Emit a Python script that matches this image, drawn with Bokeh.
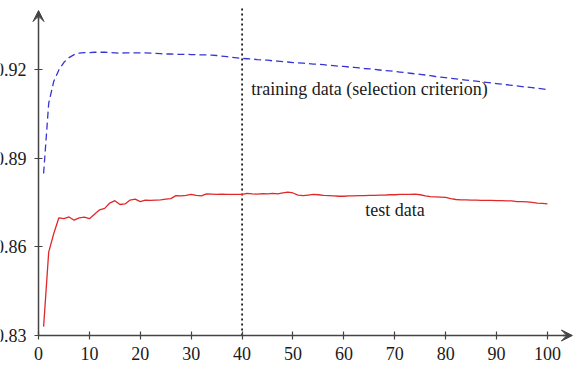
from bokeh.plotting import figure
from bokeh.models import Range1d, FixedTicker, Arrow, VeeHead
from bokeh.core.properties import value
from bokeh.embed import file_html
from bokeh.resources import INLINE

iterations = list(range(1, 101))

training = [0.8848, 0.9085, 0.9160, 0.9198, 0.9224, 0.9240, 0.9250, 0.9255, 0.9257, 0.9257,
            0.9258, 0.9258, 0.9258, 0.9257, 0.9256, 0.9255, 0.9256, 0.9256, 0.9256, 0.9256,
            0.9256, 0.9255, 0.9254, 0.9253, 0.9252, 0.9252, 0.9251, 0.9251, 0.9251, 0.9250,
            0.9250, 0.9249, 0.9249, 0.9248, 0.9247, 0.9245, 0.9243, 0.9241, 0.9239, 0.9237,
            0.9236, 0.9235, 0.9233, 0.9232, 0.9231, 0.9229, 0.9228, 0.9226, 0.9225, 0.9223,
            0.9222, 0.9221, 0.9220, 0.9218, 0.9217, 0.9216, 0.9214, 0.9213, 0.9211, 0.9210,
            0.9208, 0.9207, 0.9205, 0.9203, 0.9202, 0.9200, 0.9198, 0.9196, 0.9195, 0.9193,
            0.9191, 0.9189, 0.9187, 0.9185, 0.9183, 0.9181, 0.9179, 0.9176, 0.9174, 0.9172,
            0.9170, 0.9168, 0.9166, 0.9164, 0.9162, 0.9160, 0.9158, 0.9156, 0.9154, 0.9152,
            0.9150, 0.9148, 0.9146, 0.9144, 0.9142, 0.9140, 0.9138, 0.9136, 0.9134, 0.9132]

test = [0.8330, 0.8582, 0.8645, 0.8698, 0.8695, 0.8701, 0.8690, 0.8698, 0.8700, 0.8695,
        0.8710, 0.8725, 0.8730, 0.8748, 0.8756, 0.8743, 0.8745, 0.8758, 0.8761, 0.8753,
        0.8758, 0.8757, 0.8758, 0.8759, 0.8761, 0.8763, 0.8773, 0.8772, 0.8774, 0.8777,
        0.8774, 0.8772, 0.8779, 0.8778, 0.8777, 0.8778, 0.8777, 0.8777, 0.8777, 0.8777,
        0.8781, 0.8779, 0.8778, 0.8780, 0.8779, 0.8781, 0.8779, 0.8782, 0.8785, 0.8782,
        0.8775, 0.8773, 0.8775, 0.8777, 0.8776, 0.8774, 0.8773, 0.8772, 0.8771, 0.8771,
        0.8772, 0.8772, 0.8773, 0.8773, 0.8774, 0.8774, 0.8775, 0.8775, 0.8776, 0.8776,
        0.8777, 0.8777, 0.8777, 0.8778, 0.8776, 0.8772, 0.8770, 0.8769, 0.8768, 0.8767,
        0.8763, 0.8760, 0.8759, 0.8759, 0.8758, 0.8758, 0.8757, 0.8757, 0.8757, 0.8756,
        0.8756, 0.8755, 0.8755, 0.8753, 0.8753, 0.8752, 0.8750, 0.8748, 0.8747, 0.8745]

x_ticks = [0, 10, 20, 30, 40, 50, 60, 70, 80, 90, 100]
y_ticks = [0.83, 0.86, 0.89, 0.92]
selected_iteration = 40
labels = ["training data (selection criterion)", "test data"]
label_x = [41.8, 64.2]
label_y = [0.9132, 0.8723]

FONT = "'Liberation Serif', 'Times New Roman', Times, serif"
AX = "#444444"

p = figure(width=578, height=369, output_backend="svg", toolbar_location=None,
           x_range=Range1d(-7.47, 106.1), y_range=Range1d(0.8185, 0.9433),
           min_border=0, min_border_left=0, min_border_right=0,
           min_border_top=0, min_border_bottom=0)
p.outline_line_color = None
p.grid.visible = False
p.background_fill_color = "white"

p.axis.axis_line_color = AX
p.axis.axis_line_width = 1.5
p.axis.major_tick_line_color = AX
p.axis.major_tick_line_width = 1.2
p.axis.major_tick_in = 4
p.axis.major_tick_out = 4
p.axis.minor_tick_line_color = None
p.axis.major_label_text_font = FONT
p.axis.major_label_text_font_size = "18px"
p.axis.major_label_text_color = "#1a1a1a"

p.xaxis.fixed_location = 0.83
p.yaxis.fixed_location = 0
p.xaxis.ticker = FixedTicker(ticks=x_ticks)
p.yaxis.ticker = FixedTicker(ticks=y_ticks)
p.xaxis.bounds = (0, 104.0)
p.yaxis.bounds = (0.83, 0.9380)
p.xaxis.major_label_standoff = 8
p.yaxis.major_label_standoff = 8
p.yaxis.major_label_overrides = {t: f"{t:.2f}" for t in y_ticks}

p.add_layout(Arrow(end=VeeHead(size=11, fill_color=AX, line_color=AX, line_width=1),
                   x_start=103.0, y_start=0.83, x_end=104.9, y_end=0.83,
                   line_color=AX, line_width=1.5))
p.add_layout(Arrow(end=VeeHead(size=11, fill_color=AX, line_color=AX, line_width=1),
                   x_start=0, y_start=0.9370, x_end=0, y_end=0.9399,
                   line_color=AX, line_width=1.5))

p.segment(x0=[selected_iteration], y0=[0.83], x1=[selected_iteration], y1=[0.9410],
          line_color="black", line_width=1.6, line_dash="2 3")

p.line(iterations, training, line_color="#3535d5", line_width=1.3, line_dash="7 4")
p.line(iterations, test, line_color="#e02828", line_width=1.3)

p.text(x=label_x, y=label_y, text=labels, text_baseline="middle", text_align="left",
       text_font=value(FONT), text_font_size="18px", text_color="#1a1a1a")

open("out.html", "w").write(file_html(p, INLINE))
